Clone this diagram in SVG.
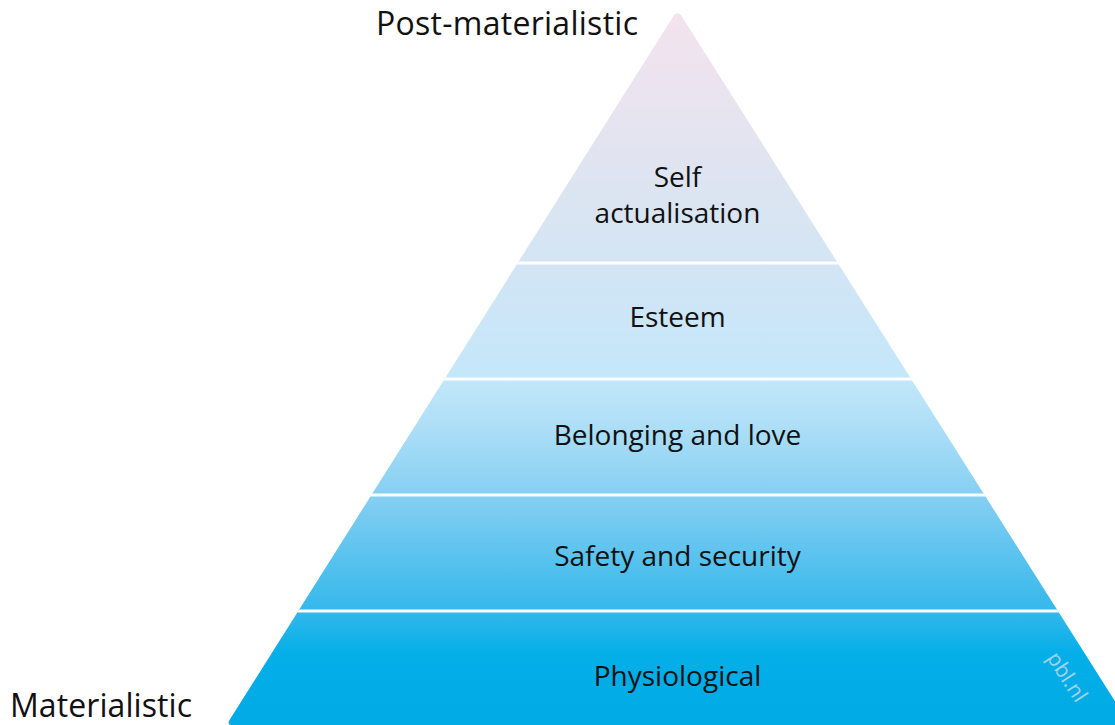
<svg xmlns="http://www.w3.org/2000/svg" width="1115" height="725" viewBox="0 0 1115 725">
  <style>
    .lbl { font-family: "Open Sans", "Noto Sans", "DejaVu Sans", sans-serif; font-size: 28px; fill: #111; text-anchor: middle; }
    .axis { font-family: "Open Sans", "Noto Sans", "DejaVu Sans", sans-serif; font-size: 32px; fill: #111; }
    .sep { stroke: #ffffff; stroke-width: 3; }
    .wm { font-family: "Open Sans", "Noto Sans", "DejaVu Sans", sans-serif; font-size: 21px; fill: #a3d3ea; text-anchor: middle; }
  </style>
  <defs>
    <linearGradient id="grad" gradientUnits="userSpaceOnUse" x1="0" y1="10" x2="0" y2="725">
      <stop offset="0" stop-color="#f4e3ee"/>
      <stop offset="0.19" stop-color="#e2e4f0"/>
      <stop offset="0.354" stop-color="#d3e5f4"/>
      <stop offset="0.517" stop-color="#c3e7fa"/>
      <stop offset="0.58" stop-color="#aedff7"/>
      <stop offset="0.68" stop-color="#85cff2"/>
      <stop offset="0.84" stop-color="#34b8eb"/>
      <stop offset="0.9" stop-color="#04afe8"/>
      <stop offset="1" stop-color="#00abe6"/>
    </linearGradient>
    <clipPath id="pyr">
      <path d="M 672.8,17 Q 677.5,9.5 682.2,17 L 1130,725 L 231,725 Q 227,725 229.5,720 Z"/>
    </clipPath>
  </defs>

  <g id="pyramid" clip-path="url(#pyr)">
    <g id="node-self-actualisation">
      <rect x="200" y="0" width="915" height="263" fill="url(#grad)"/>
    </g>
    <g id="node-esteem">
      <rect x="200" y="263" width="915" height="116" fill="url(#grad)"/>
    </g>
    <g id="node-belonging">
      <rect x="200" y="379" width="915" height="116" fill="url(#grad)"/>
    </g>
    <g id="node-safety">
      <rect x="200" y="495" width="915" height="116" fill="url(#grad)"/>
    </g>
    <g id="node-physiological">
      <rect x="200" y="611" width="915" height="114" fill="url(#grad)"/>
    </g>
    <g id="separators">
      <line class="sep" x1="200" y1="263" x2="1115" y2="263"/>
      <line class="sep" x1="200" y1="379" x2="1115" y2="379"/>
      <line class="sep" x1="200" y1="495" x2="1115" y2="495"/>
      <line class="sep" x1="200" y1="611" x2="1115" y2="611"/>
    </g>
  </g>

  <g id="labels">
    <g id="label-self-actualisation">
      <text class="lbl" x="677.5" y="187">Self</text>
      <text class="lbl" x="677.5" y="223">actualisation</text>
    </g>
    <g id="label-esteem"><text class="lbl" x="677.5" y="327">Esteem</text></g>
    <g id="label-belonging"><text class="lbl" x="677.5" y="445">Belonging and love</text></g>
    <g id="label-safety"><text class="lbl" x="677.5" y="566">Safety and security</text></g>
    <g id="label-physiological"><text class="lbl" x="677.5" y="686">Physiological</text></g>
  </g>

  <g id="axis-labels">
    <text class="axis" x="376" y="35" textLength="262" lengthAdjust="spacing">Post-materialistic</text>
    <text class="axis" x="10" y="717" textLength="182" lengthAdjust="spacing">Materialistic</text>
  </g>

  <text class="wm" x="1067" y="684" transform="rotate(57 1067 677)">pbl.nl</text>
</svg>
